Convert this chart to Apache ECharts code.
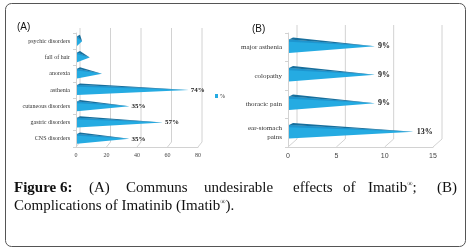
<!DOCTYPE html>
<html>
<head>
<meta charset="utf-8">
<script src="https://cdn.jsdelivr.net/npm/echarts@6/dist/echarts.min.js"></script>
<style>
  html, body { margin: 0; padding: 0; background: #fff; }
  #chart { width: 470px; height: 249px; }
</style>
</head>
<body>
<div id="chart"></div>
<script>
// panel A: common undesirable effects
const categoriesA = ['psychic disorders', 'fall of hair', 'anorexia', 'asthenia', 'cutaneous disorders', 'gastric disorders', 'CNS disorders']
const valuesA = [4, 9, 17, 74, 35, 57, 35]
const labelsA = ['', '', '', '74%', '35%', '57%', '35%']
const ticksA = [0, 20, 40, 60, 80]

// panel B: complications
const categoriesB = ['major asthenia', 'colopathy', 'thoracic pain', 'ear-stomach\npains']
const valuesB = [9, 9, 9, 13]
const labelsB = ['9%', '9%', '9%', '13%']
const ticksB = [0, 5, 10, 15]

const SERIF = 'Liberation Serif'
const SANS = 'Liberation Sans'
const LIGHT = '#25abe2'
const MID = '#1e95cf'
const DARK = '#176f9d'
const GRID_LINE = '#d2d2d2'

const chart = echarts.init(document.getElementById('chart'), null, { renderer: 'canvas' })

// 3d floor diagonals and back wall lines, one per tick
function frameRender(dx, dy) {
  return function (params, api) {
    const cs = params.coordSys
    const x = api.coord([api.value(0), 0])[0]
    const bottom = cs.y + cs.height
    const top = cs.y
    return {
      type: 'group',
      children: [
        { type: 'line', shape: { x1: x, y1: bottom, x2: x + dx, y2: bottom - dy }, style: { stroke: GRID_LINE, lineWidth: 1 } },
        { type: 'line', shape: { x1: x + dx, y1: bottom - dy, x2: x + dx, y2: top - dy }, style: { stroke: GRID_LINE, lineWidth: 1 } }
      ]
    }
  }
}

// flat cone with a darker top facet
function coneRender(labels, ratio, dx, dy, shift, fs, gap) {
  return function (params, api) {
    const v = api.value(0)
    const c = api.value(1)
    const p = api.coord([v, c])
    const p0 = api.coord([0, c])
    const h = api.size([0, 1])[1] * ratio
    const y = p[1] + shift
    const x0 = p0[0] + 1
    const top = y - h / 2
    const children = [
      { type: 'polygon', shape: { points: [[x0, top], [x0, y + h / 2], [p[0], y]] }, style: { fill: LIGHT } },
      { type: 'polygon', shape: { points: [[x0, top], [x0, top + h * 0.18], [p[0], y]] }, style: { fill: MID } },
      { type: 'polygon', shape: { points: [[x0, top], [x0 + dx, top - dy], [p[0], y]] }, style: { fill: DARK } }
    ]
    const txt = labels[params.dataIndex]
    if (txt) {
      children.push({
        type: 'text',
        style: { text: txt, x: p[0] + gap, y: y, align: 'left', verticalAlign: 'middle', font: 'bold ' + fs + 'px "' + SERIF + '"', fill: '#222' }
      })
    }
    return { type: 'group', children: children }
  }
}

const capRich = {
  t: { fontFamily: SERIF, fontSize: 15, fill: '#111' },
  b: { fontFamily: SERIF, fontSize: 15, fill: '#111', fontWeight: 'bold' },
  s: { fontFamily: SERIF, fontSize: 7, fill: '#111', verticalAlign: 'top' }
}

function word(text, x, y) {
  return { type: 'text', left: x, top: y, style: { text: text, rich: capRich } }
}

const option = {
  animation: false,
  legend: {
    data: ['%'],
    left: 210,
    top: 88,
    icon: 'rect',
    itemWidth: 3,
    itemHeight: 4,
    itemGap: 2,
    textStyle: { fontFamily: SERIF, fontSize: 6, color: '#333', padding: [0, 0, 0, -3] }
  },
  grid: [
    { left: 76, top: 33, width: 122, height: 114 },
    { left: 288, top: 33, width: 145, height: 114 }
  ],
  xAxis: [
    {
      gridIndex: 0, type: 'value', min: 0, max: 80, interval: 20,
      axisLine: { show: true, lineStyle: { color: GRID_LINE } },
      axisTick: { show: false },
      splitLine: { show: false },
      axisLabel: { fontFamily: SERIF, fontSize: 6, color: '#444', margin: 5 }
    },
    {
      gridIndex: 1, type: 'value', min: 0, max: 15, interval: 5,
      axisLine: { show: true, lineStyle: { color: GRID_LINE } },
      axisTick: { show: false },
      splitLine: { show: false },
      axisLabel: { fontFamily: SANS, fontSize: 7, color: '#444', margin: 6 }
    }
  ],
  yAxis: [
    {
      gridIndex: 0, type: 'category', data: categoriesA, inverse: true,
      axisLine: { show: true, lineStyle: { color: GRID_LINE } },
      axisTick: { show: true, length: 3, lineStyle: { color: GRID_LINE } },
      axisLabel: { fontFamily: SERIF, fontSize: 6, color: '#333', margin: 6 }
    },
    {
      gridIndex: 1, type: 'category', data: categoriesB, inverse: true,
      axisLine: { show: true, lineStyle: { color: GRID_LINE } },
      axisTick: { show: true, length: 3, lineStyle: { color: GRID_LINE } },
      axisLabel: { fontFamily: SERIF, fontSize: 7, color: '#333', margin: 6, lineHeight: 9 }
    }
  ],
  series: [
    {
      type: 'custom', name: 'frameA', xAxisIndex: 0, yAxisIndex: 0, clip: false, z: 1,
      renderItem: frameRender(4, 5), data: ticksA.map(t => [t, 0]), encode: { x: 0, y: 1 }
    },
    {
      type: 'custom', name: 'frameB', xAxisIndex: 1, yAxisIndex: 1, clip: false, z: 1,
      renderItem: frameRender(9, 8), data: ticksB.map(t => [t, 0]), encode: { x: 0, y: 1 }
    },
    {
      type: 'custom', name: '%', xAxisIndex: 0, yAxisIndex: 0, clip: false, z: 3,
      itemStyle: { color: LIGHT },
      renderItem: coneRender(labelsA, 0.6, 3, 1.5, 0, 7, 2),
      data: valuesA.map((v, i) => [v, i]), encode: { x: 0, y: 1 }
    },
    {
      type: 'custom', name: 'B', xAxisIndex: 1, yAxisIndex: 1, clip: false, z: 3,
      itemStyle: { color: LIGHT },
      renderItem: coneRender(labelsB, 0.48, 4, 2, -1, 8, 3),
      data: valuesB.map((v, i) => [v, i]), encode: { x: 0, y: 1 }
    }
  ],
  graphic: [
    { type: 'rect', shape: { x: 5.5, y: 3.5, width: 460, height: 243, r: 6 }, style: { fill: 'none', stroke: '#555', lineWidth: 1 }, z: -1 },
    { type: 'text', left: 17, top: 22, style: { text: '(A)', font: '10px "' + SANS + '"', fill: '#111' } },
    { type: 'text', left: 252, top: 24, style: { text: '(B)', font: '10px "' + SANS + '"', fill: '#111' } },
    word('{b|Figure 6:}', 14, 181),
    word('{t|(A)}', 89, 181),
    word('{t|Communs}', 126, 181),
    word('{t|undesirable}', 204, 181),
    word('{t|effects}', 293, 181),
    word('{t|of}', 343, 181),
    word('{t|Imatib}{s|®}{t|;}', 368, 181),
    word('{t|(B)}', 437, 181),
    word('{t|Complications of Imatinib (Imatib}{s|®}{t|).}', 14, 199)
  ]
}

chart.setOption(option)
</script>
</body>
</html>
